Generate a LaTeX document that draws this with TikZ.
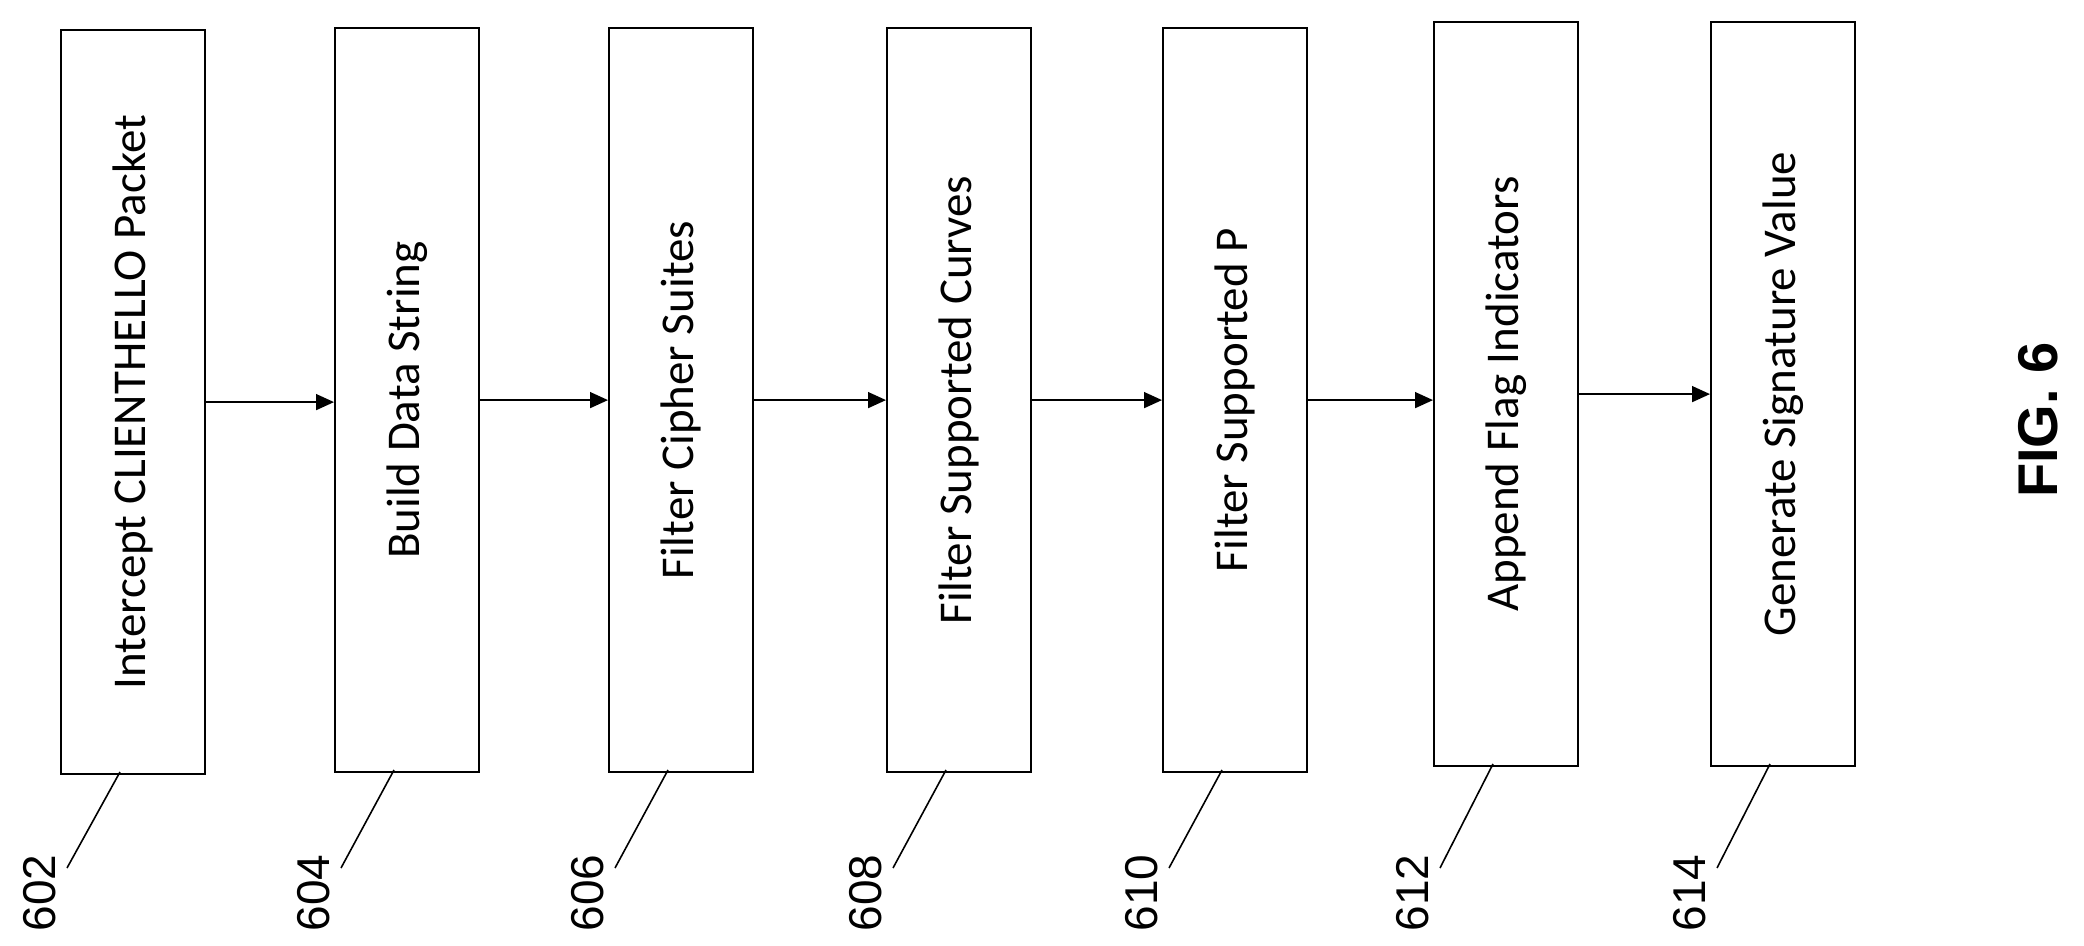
\documentclass[tikz,border=0pt]{standalone}
\usepackage{fontspec}
\setmainfont{Carlito}
\newfontfamily\lbl{Liberation Sans}
\usetikzlibrary{arrows.meta}
\begin{document}
\begin{tikzpicture}[x=0.5pt,y=-0.5pt,
 box/.style={draw,line width=1.1pt,minimum width=72pt,minimum height=372pt,inner sep=0pt,anchor=north west},
 txt/.style={rotate=90,font=\fontsize{23.5}{27}\selectfont},
 num/.style={rotate=90,font=\lbl\fontsize{23}{27}\selectfont},
 arr/.style={line width=0.8pt,-{Triangle[length=9pt,width=8pt]}},
 lead/.style={line width=0.8pt}]
\useasboundingbox (0,0) rectangle (2084,946);
\foreach \n/\x/\y/\t in {602/60/29/Intercept CLIENTHELLO Packet,604/334/27/Build Data String,606/608/27/Filter Cipher Suites,608/886/27/Filter Supported Curves,610/1162/27/Filter Supported P,612/1433/21/Append Flag Indicators,614/1710/21/Generate Signature Value}{
 \node[box] (b\n) at (\x,\y) {};
 \node[txt] at (b\n.center) {\t};
 \node[num] (l\n) at (\x-20,893) {\n};
 \coordinate (s\n) at (\x+7,868);
 \coordinate (e\n) at (\x+60,\y+743);
 \draw[lead] (s\n) -- (e\n);
}
\foreach \a/\b in {602/604,604/606,606/608,608/610,610/612,612/614}{
 \draw[arr] (b\a.east) -- (b\b.west |- b\a.east);
}
\node[rotate=90,font=\lbl\bfseries\fontsize{28}{32}\selectfont] (fig) at (2038,420) {FIG. 6};
\end{tikzpicture}
\end{document}
